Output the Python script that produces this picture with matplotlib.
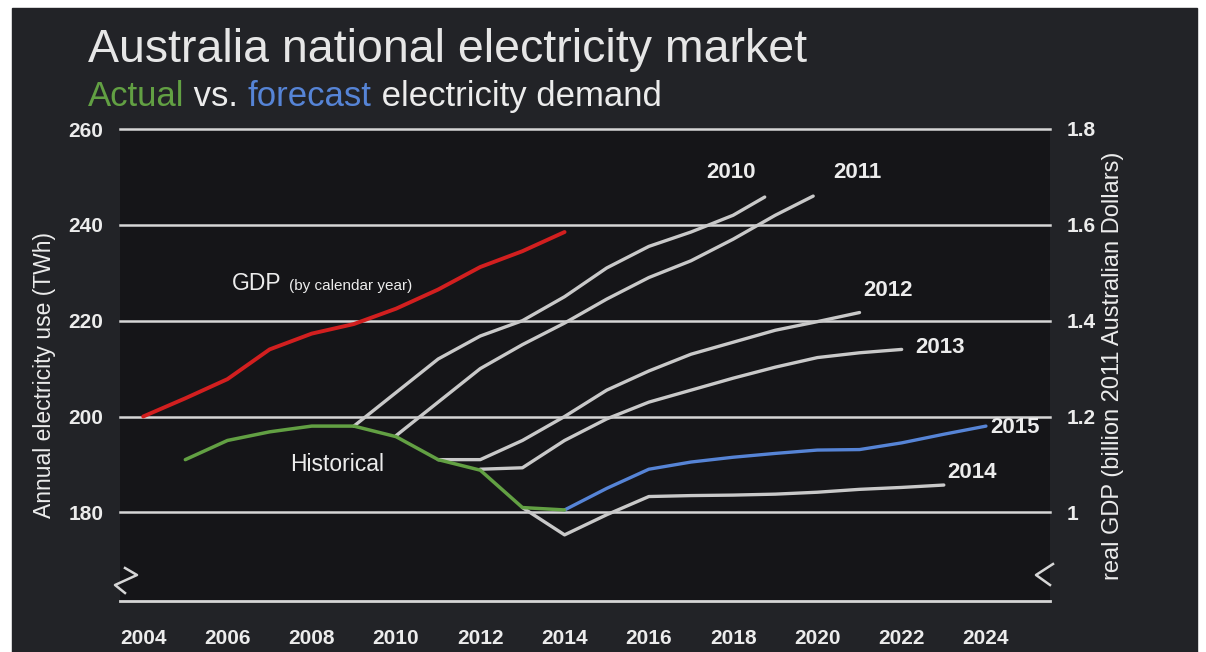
import matplotlib
matplotlib.use("Agg")
import matplotlib.pyplot as plt
from matplotlib.patches import Rectangle

plt.rcParams['font.family'] = ['Liberation Sans', 'DejaVu Sans']

# ---- data ----
gdp_years = [2004, 2005, 2006, 2007, 2008, 2009, 2010, 2011, 2012, 2013, 2014]
gdp = [1.200, 1.238, 1.278, 1.340, 1.373, 1.393, 1.425, 1.465, 1.512, 1.545, 1.585]

hist_years = [2005, 2006, 2007, 2008, 2009, 2010, 2011, 2012, 2013, 2014]
hist = [191.0, 195.0, 196.8, 198.0, 198.0, 195.8, 191.0, 188.8, 181.0, 180.5]

f2010_years = [2009, 2010, 2011, 2012, 2013, 2014, 2015, 2016, 2017, 2018, 2018.75]
f2010 = [198.0, 205.0, 212.0, 216.8, 220.0, 225.0, 231.0, 235.5, 238.5, 242.0, 245.8]

f2011_years = [2010, 2011, 2012, 2013, 2014, 2015, 2016, 2017, 2018, 2019, 2019.9]
f2011 = [196.0, 203.0, 210.0, 215.0, 219.5, 224.5, 229.0, 232.5, 237.0, 242.0, 246.0]

f2012_years = [2011, 2012, 2013, 2014, 2015, 2016, 2017, 2018, 2019, 2020, 2021]
f2012 = [191.0, 191.0, 195.0, 200.0, 205.5, 209.5, 213.0, 215.5, 218.0, 219.8, 221.7]

f2013_years = [2012, 2013, 2014, 2015, 2016, 2017, 2018, 2019, 2020, 2021, 2022]
f2013 = [189.0, 189.3, 195.0, 199.5, 203.0, 205.5, 208.0, 210.3, 212.3, 213.3, 214.0]

f2014_years = [2013, 2014, 2015, 2016, 2017, 2018, 2019, 2020, 2021, 2022, 2023]
f2014 = [181.0, 175.3, 179.5, 183.3, 183.5, 183.6, 183.8, 184.2, 184.8, 185.2, 185.7]

f2015_years = [2014, 2015, 2016, 2017, 2018, 2019, 2020, 2021, 2022, 2023, 2024]
f2015 = [180.5, 185.0, 189.0, 190.5, 191.5, 192.3, 193.0, 193.1, 194.5, 196.3, 198.0]

left_ticks = [180, 200, 220, 240, 260]
right_ticks = [1.0, 1.2, 1.4, 1.6, 1.8]
right_labels = ['1', '1.2', '1.4', '1.6', '1.8']
x_ticks = list(range(2004, 2025, 2))

# ---- colours ----
BG = '#222327'
PLOT_BG = '#151518'
GRID = '#d6d6d6'
GRAY = '#c9c9c9'
RED = '#d21f1f'
GREEN = '#62a043'
BLUE = '#5684d6'
TXT = '#ececec'

W, H = 1206, 652
fig = plt.figure(figsize=(W / 100, H / 100), dpi=100, facecolor='white')
fig.patches.append(Rectangle((12 / W, 0), (1197 - 12) / W, (H - 8) / H,
                             transform=fig.transFigure, color=BG, zorder=-10))

ax = fig.add_axes([120 / W, 51 / H, 930 / W, 472 / H])
ax.set_facecolor(PLOT_BG)
ax.set_xlim(2003.45, 2025.52)
ax.set_ylim(161.5, 260)

for s in ['top', 'left', 'right']:
    ax.spines[s].set_visible(False)
ax.spines['bottom'].set_color(GRID)
ax.spines['bottom'].set_linewidth(2)

for v in left_ticks:
    ax.axhline(v, color=GRID, lw=1.8, clip_on=False, zorder=1)

ax.set_yticks(left_ticks)
ax.set_yticklabels([str(t) for t in left_ticks])
ax.set_xticks(x_ticks)
ax.set_xticklabels([str(t) for t in x_ticks])
ax.tick_params(axis='both', length=0, colors=TXT, labelsize=15)
ax.tick_params(axis='y', pad=12)
ax.tick_params(axis='x', pad=20)
for lab in ax.get_xticklabels() + ax.get_yticklabels():
    lab.set_fontweight('bold')

# forecasts
for yrs, vals in [(f2010_years, f2010), (f2011_years, f2011), (f2012_years, f2012),
                  (f2013_years, f2013), (f2014_years, f2014)]:
    ax.plot(yrs, vals, color=GRAY, lw=2.4, solid_capstyle='round', solid_joinstyle='round', zorder=3)
ax.plot(f2015_years, f2015, color=BLUE, lw=2.4, solid_capstyle='round', solid_joinstyle='round', zorder=4)
ax.plot(hist_years, hist, color=GREEN, lw=2.5, solid_capstyle='round', solid_joinstyle='round', zorder=5)

# GDP on the right axis
ax2 = ax.twinx()
ax2.set_ylim(0.815, 1.8)
for s in ax2.spines.values():
    s.set_visible(False)
ax2.set_yticks(right_ticks)
ax2.set_yticklabels(right_labels)
ax2.tick_params(axis='y', length=0, colors=TXT, labelsize=15, pad=12)
for lab in ax2.get_yticklabels():
    lab.set_fontweight('bold')
ax2.plot(gdp_years, gdp, color=RED, lw=2.8, solid_capstyle='round', solid_joinstyle='round', zorder=6)

# line labels
lbl = dict(color=TXT, fontsize=16, fontweight='bold', ha='center', va='center')
ax.text(2017.95, 251, '2010', **lbl)
ax.text(2020.96, 251, '2011', **lbl)
ax.text(2021.67, 226.4, '2012', **lbl)
ax.text(2022.9, 214.5, '2013', **lbl)
ax.text(2024.7, 197.8, '2015', clip_on=False, **lbl)
ax.text(2023.67, 188.4, '2014', **lbl)

ax.text(2006.1, 227.8, 'GDP', color=TXT, fontsize=16.5, ha='left', va='center')
ax.text(2007.45, 227.3, '(by calendar year)', color=TXT, fontsize=11, ha='left', va='center')
ax.text(2008.6, 189.9, 'Historical', color=TXT, fontsize=16.5, ha='center', va='center')

# axis break marks
brk = dict(color=GRID, lw=1.8, transform=ax.transAxes, clip_on=False)
ax.plot([(125 - 120) / 930, (137 - 120) / 930, (115 - 120) / 930, (125 - 120) / 930],
        [(601 - 568) / 472, (601 - 575) / 472, (601 - 585) / 472, (601 - 593) / 472], **brk)
ax.plot([(1053 - 120) / 930, (1036 - 120) / 930, (1050 - 120) / 930],
        [(601 - 564) / 472, (601 - 575) / 472, (601 - 585) / 472], **brk)

# axis titles
fig.text(45 / W, 1 - 375 / H, 'Annual electricity use (TWh)', rotation=90,
         color=TXT, fontsize=16.5, ha='center', va='center')
fig.text(1113 / W, 1 - 366 / H, 'real GDP (billion 2011 Australian Dollars)', rotation=90,
         color=TXT, fontsize=17, ha='center', va='center')

# title and coloured subtitle
fig.text(88 / W, 1 - 62 / H, 'Australia national electricity market',
         color='#e6e6e6', fontsize=33.5, va='baseline', ha='left')

renderer = fig.canvas.get_renderer()
x = 88
for part, col in [('Actual', GREEN), (' vs. ', TXT), ('forecast', BLUE),
                  (' electricity demand', TXT)]:
    t = fig.text(x / W, 1 - 106 / H, part, color=col, fontsize=25, va='baseline', ha='left')
    bb = t.get_window_extent(renderer)
    x += bb.width

fig.savefig('out.png', dpi=100, facecolor=fig.get_facecolor())
